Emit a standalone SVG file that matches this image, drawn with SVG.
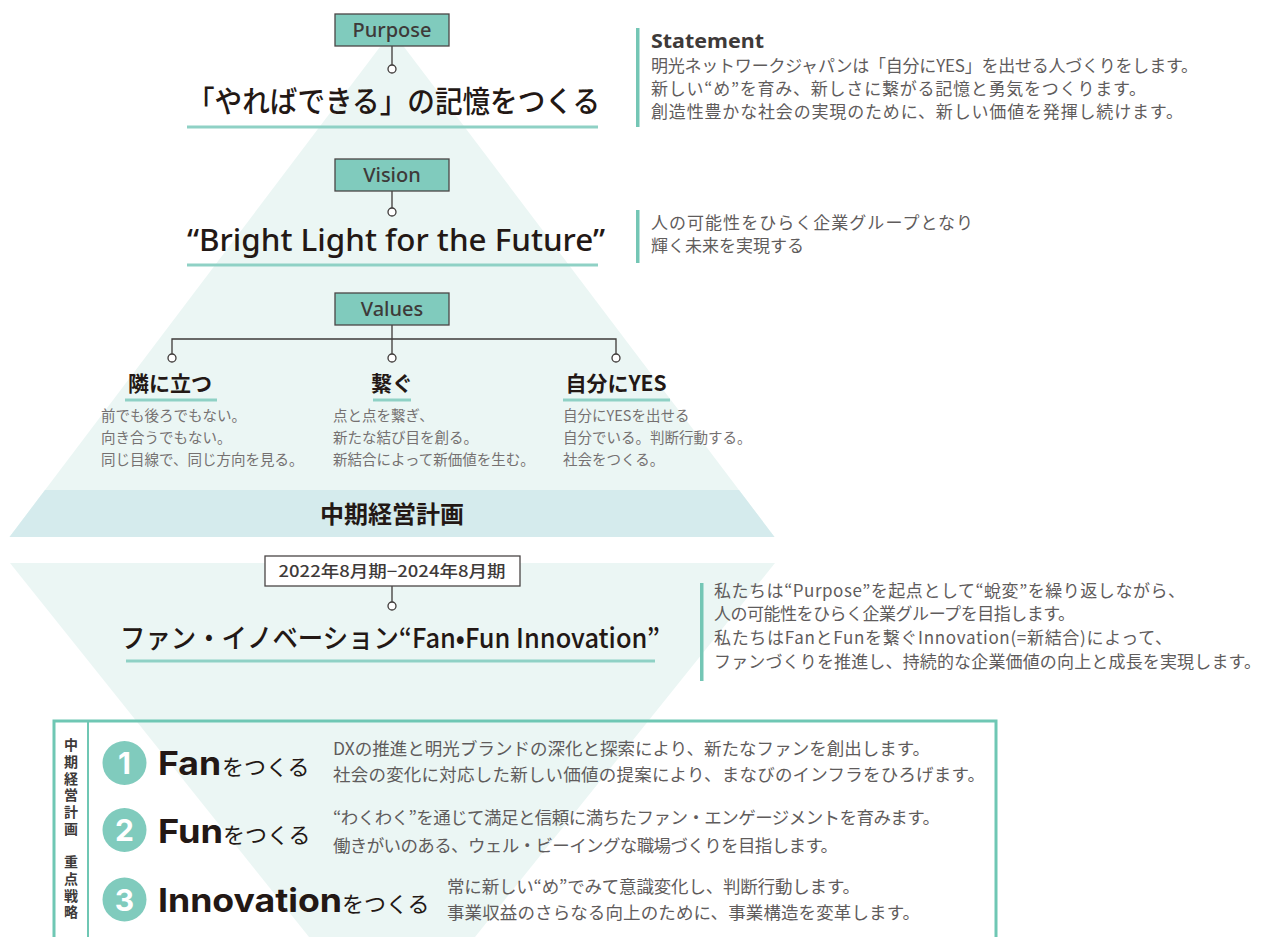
<svg xmlns="http://www.w3.org/2000/svg" width="1263" height="937" viewBox="0 0 1263 937">
<style>
.jp{font-family:"Noto Sans CJK JP","Noto Sans",sans-serif}
.lat{font-family:"Noto Sans","Noto Sans CJK JP",sans-serif}
.tag{fill:#80cbbd;stroke:#4a4646;stroke-width:1.3}
.tagt{font-family:"Noto Sans","Noto Sans CJK JP",sans-serif;font-size:20px;font-weight:500;fill:#3e3a39;text-anchor:middle}
.title{fill:#231815}
.ul{stroke:#8fd1c5;stroke-width:3}
.bar{fill:#74c6b5}
.desc{font-family:"Noto Sans CJK JP",sans-serif;fill:#5f5c5c}
.vdesc{font-family:"Noto Sans CJK JP",sans-serif;font-size:14.5px;fill:#757171}
.con{stroke:#3e3a39;stroke-width:1.3;fill:none}
.dot{fill:#fff;stroke:#3e3a39;stroke-width:1.3}
.num{fill:#80cbbd}
.numt{font-family:"Inter","Noto Sans",sans-serif;font-weight:700;font-size:30px;fill:#fff;text-anchor:middle}
.big{font-family:"Inter","Noto Sans",sans-serif;font-weight:700;font-size:32px;fill:#231815}
.tsuk{font-family:"Noto Sans CJK JP",sans-serif;font-size:22px;fill:#231815}
</style>

<g id="background">
  <polygon points="392,31 774.5,537 9.5,537" fill="#ebf6f4"/>
  <polygon points="45,490 739,490 774.5,537 9.5,537" fill="#d5ebed"/>
  <polygon points="10,563 775,563 475,937 309,937" fill="#ebf6f4"/>
</g>

<g id="connectors">
  <line class="con" x1="392" y1="46" x2="392" y2="65"/>
  <line class="con" x1="392" y1="191" x2="392" y2="208"/>
  <path class="con" d="M392,325 V339 M172,354 V339 H616 V354 M392,339 V354"/>
  <line class="con" x1="392" y1="586" x2="392" y2="602"/>
  <circle class="dot" cx="392" cy="69" r="4"/>
  <circle class="dot" cx="392" cy="212" r="4"/>
  <circle class="dot" cx="172" cy="358" r="4"/>
  <circle class="dot" cx="392" cy="358" r="4"/>
  <circle class="dot" cx="616" cy="358" r="4"/>
  <circle class="dot" cx="392" cy="606" r="4"/>
</g>

<g id="purpose">
  <rect class="tag" x="335" y="14" width="114" height="32"/>
  <text class="tagt" x="392" y="37">Purpose</text>
  <text class="jp title" x="187" y="112" font-size="29.5" font-weight="500" textLength="413" lengthAdjust="spacingAndGlyphs">「やればできる」の記憶をつくる</text>
  <line class="ul" x1="187" y1="127" x2="598" y2="127"/>
</g>

<g id="statement">
  <rect class="bar" x="636" y="28" width="3.5" height="99"/>
  <text class="lat" x="651" y="48" font-size="20" font-weight="700" fill="#3e3a39" textLength="113" lengthAdjust="spacingAndGlyphs">Statement</text>
  <text class="desc" x="651" y="72" font-size="17" textLength="547">明光ネットワークジャパンは「自分にYES」を出せる人づくりをします。</text>
  <text class="desc" x="651" y="95" font-size="17" textLength="495">新しい“め”を育み、新しさに繋がる記憶と勇気をつくります。</text>
  <text class="desc" x="651" y="118" font-size="17" textLength="532">創造性豊かな社会の実現のために、新しい価値を発揮し続けます。</text>
</g>

<g id="vision">
  <rect class="tag" x="335" y="159" width="114" height="32"/>
  <text class="tagt" x="392" y="182">Vision</text>
  <text class="lat title" x="187" y="251" font-size="30" font-weight="500" textLength="418" lengthAdjust="spacingAndGlyphs">“Bright Light for the Future”</text>
  <line class="ul" x1="187" y1="265" x2="598" y2="265"/>
</g>

<g id="vision-text">
  <rect class="bar" x="636" y="210" width="3.5" height="53"/>
  <text class="desc" x="651" y="229" font-size="17" textLength="322">人の可能性をひらく企業グループとなり</text>
  <text class="desc" x="651" y="252" font-size="17">輝く未来を実現する</text>
</g>

<g id="values">
  <rect class="tag" x="335" y="293" width="114" height="32"/>
  <text class="tagt" x="392" y="316">Values</text>
</g>

<g id="value-1">
  <text class="jp title" x="170" y="391" font-size="21" font-weight="700" text-anchor="middle">隣に立つ</text>
  <line class="ul" x1="125" y1="400" x2="217" y2="400"/>
  <text class="vdesc" x="101" y="421">前でも後ろでもない。</text>
  <text class="vdesc" x="101" y="443">向き合うでもない。</text>
  <text class="vdesc" x="101" y="465">同じ目線で、同じ方向を見る。</text>
</g>

<g id="value-2">
  <text class="jp title" x="392" y="391" font-size="21" font-weight="700" text-anchor="middle">繋ぐ</text>
  <line class="ul" x1="373" y1="400" x2="411" y2="400"/>
  <text class="vdesc" x="333" y="421">点と点を繋ぎ、</text>
  <text class="vdesc" x="333" y="443">新たな結び目を創る。</text>
  <text class="vdesc" x="333" y="465">新結合によって新価値を生む。</text>
</g>

<g id="value-3">
  <text class="jp title" x="616" y="391" font-size="21" font-weight="700" text-anchor="middle">自分にYES</text>
  <line class="ul" x1="563" y1="400" x2="670" y2="400"/>
  <text class="vdesc" x="563" y="421">自分にYESを出せる</text>
  <text class="vdesc" x="563" y="443">自分でいる。判断行動する。</text>
  <text class="vdesc" x="563" y="465">社会をつくる。</text>
</g>

<g id="mid-term-band">
  <text class="jp title" x="392" y="523" font-size="24" font-weight="700" text-anchor="middle">中期経営計画</text>
</g>

<g id="period">
  <rect x="265" y="556" width="255" height="30" fill="#fff" stroke="#4a4646" stroke-width="1.3"/>
  <text class="jp" x="392" y="577" font-size="16" font-weight="500" fill="#3e3a39" text-anchor="middle" textLength="227" lengthAdjust="spacingAndGlyphs">2022年8月期−2024年8月期</text>
  <text class="jp title" x="120" y="648" font-size="27" font-weight="500" textLength="540" lengthAdjust="spacingAndGlyphs">ファン・イノベーション“Fan•Fun Innovation”</text>
  <line class="ul" x1="126" y1="661" x2="655" y2="661"/>
</g>

<g id="plan-text">
  <rect class="bar" x="700" y="583" width="3.5" height="98"/>
  <text class="desc" x="714" y="597" font-size="17" textLength="471">私たちは“Purpose”を起点として“蛻変”を繰り返しながら、</text>
  <text class="desc" x="714" y="620" font-size="17" textLength="361">人の可能性をひらく企業グループを目指します。</text>
  <text class="desc" x="714" y="644" font-size="17" textLength="458">私たちはFanとFunを繋ぐInnovation(=新結合)によって、</text>
  <text class="desc" x="714" y="668" font-size="17" textLength="547">ファンづくりを推進し、持続的な企業価値の向上と成長を実現します。</text>
</g>

<g id="strategy-box">
  <rect x="54" y="721" width="942" height="230" fill="none" stroke="#6fc7b4" stroke-width="3"/>
  <line x1="88" y1="721" x2="88" y2="945" stroke="#6fc7b4" stroke-width="2"/>
  <text class="jp" x="71" y="738" font-size="14" font-weight="700" fill="#3e3a39" style="writing-mode:vertical-rl" letter-spacing="2.7">中期経営計画　重点戦略</text>
</g>

<g id="strategy-1">
  <circle class="num" cx="124.5" cy="763" r="22"/>
  <text class="numt" x="124.5" y="774">1</text>
  <text class="big" x="158" y="775" textLength="63" lengthAdjust="spacingAndGlyphs">Fan</text>
  <text class="tsuk" x="222" y="775">をつくる</text>
  <text class="desc" x="333" y="755" font-size="17.5" textLength="597">DXの推進と明光ブランドの深化と探索により、新たなファンを創出します。</text>
  <text class="desc" x="333" y="781" font-size="17.5" textLength="652">社会の変化に対応した新しい価値の提案により、まなびのインフラをひろげます。</text>
</g>

<g id="strategy-2">
  <circle class="num" cx="124.5" cy="830" r="22"/>
  <text class="numt" x="124.5" y="841">2</text>
  <text class="big" x="158" y="843" textLength="65" lengthAdjust="spacingAndGlyphs">Fun</text>
  <text class="tsuk" x="223" y="843">をつくる</text>
  <text class="desc" x="333" y="824" font-size="17.5" textLength="607">“わくわく”を通じて満足と信頼に満ちたファン・エンゲージメントを育みます。</text>
  <text class="desc" x="333" y="852" font-size="17.5" textLength="505">働きがいのある、ウェル・ビーイングな職場づくりを目指します。</text>
</g>

<g id="strategy-3">
  <circle class="num" cx="124.5" cy="899.5" r="22"/>
  <text class="numt" x="124.5" y="910.5">3</text>
  <text class="big" x="158" y="912" textLength="184" lengthAdjust="spacingAndGlyphs">Innovation</text>
  <text class="tsuk" x="342" y="912">をつくる</text>
  <text class="desc" x="447" y="893" font-size="17.5" textLength="413">常に新しい“め”でみて意識変化し、判断行動します。</text>
  <text class="desc" x="447" y="919" font-size="17.5" textLength="473">事業収益のさらなる向上のために、事業構造を変革します。</text>
</g>
</svg>
